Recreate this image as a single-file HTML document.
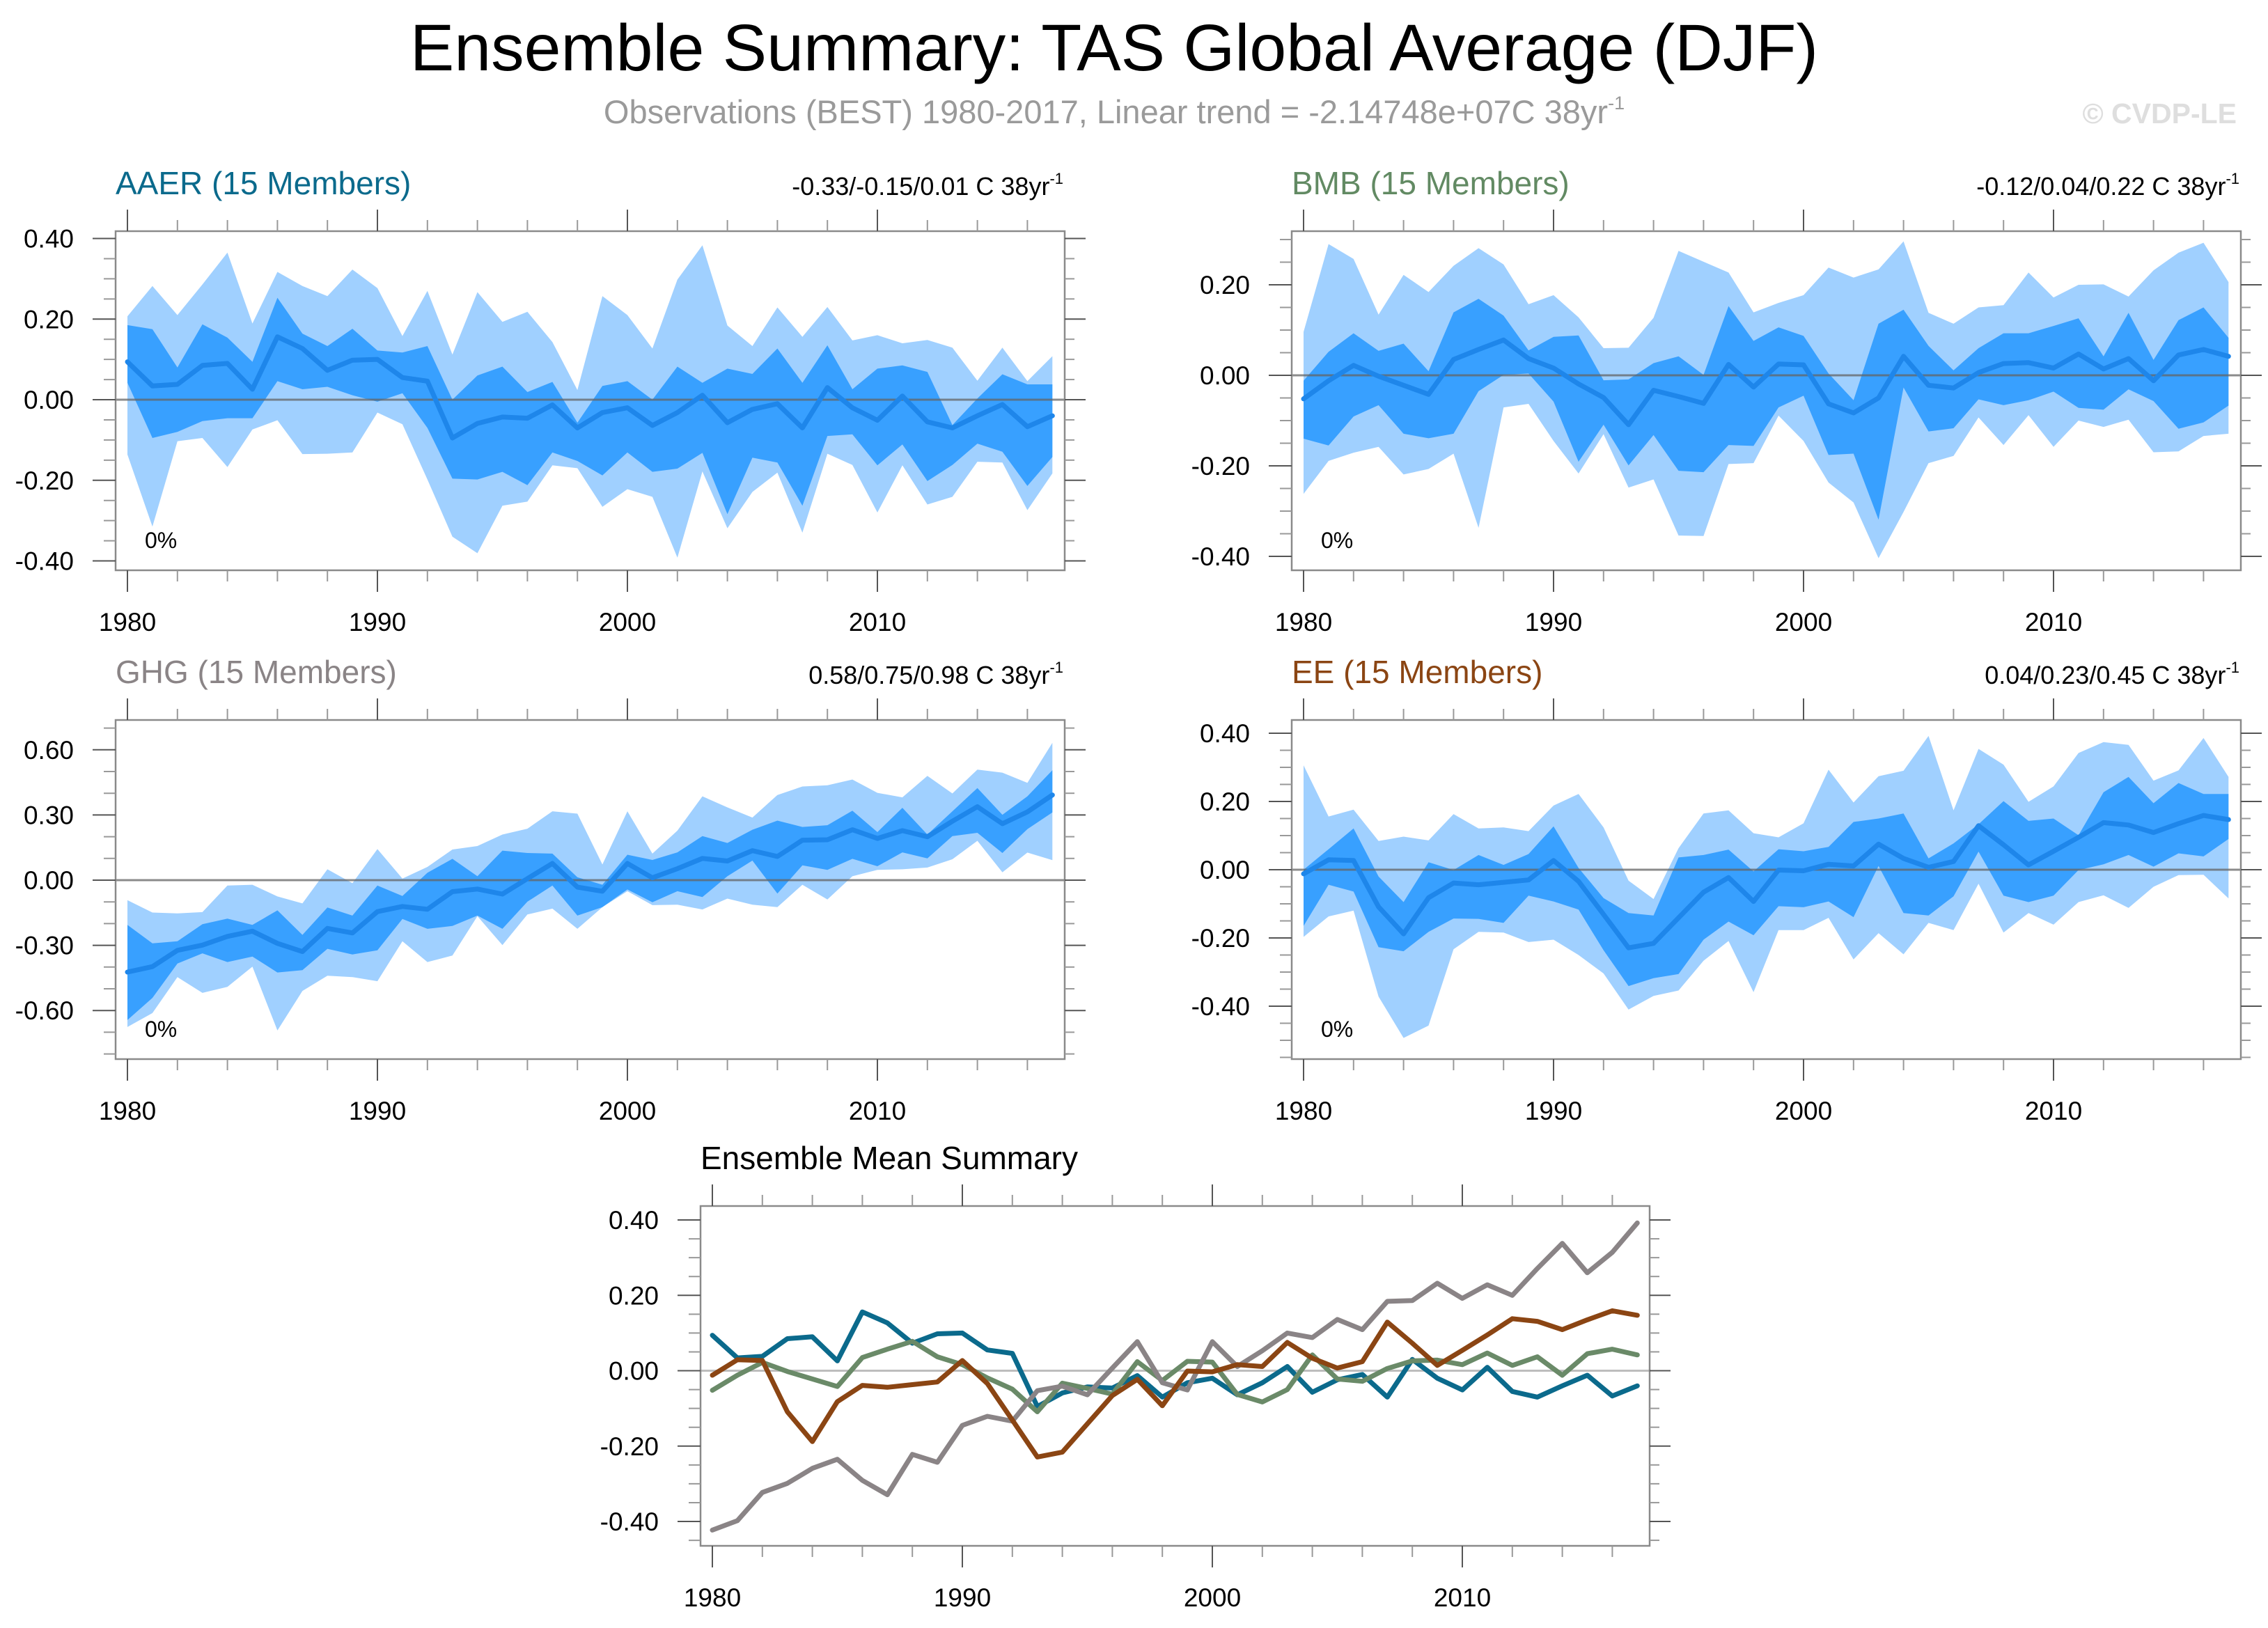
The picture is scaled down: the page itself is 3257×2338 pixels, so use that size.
<!DOCTYPE html>
<html><head><meta charset="utf-8"><style>
html,body{margin:0;padding:0;background:#fff;}
svg{display:block;font-family:"Liberation Sans",sans-serif;}
</style></head><body>
<svg id="root" width="3257" height="2338" viewBox="0 0 3257 2338" xmlns="http://www.w3.org/2000/svg">
<rect width="3257" height="2338" fill="#fff"/>
<text x="1600" y="101" font-size="95" text-anchor="middle" fill="#000">Ensemble Summary: TAS Global Average (DJF)</text>
<text x="1600" y="177" font-size="47" text-anchor="middle" fill="#9a9a9a">Observations (BEST) 1980-2017, Linear trend = -2.14748e+07C 38yr<tspan dy="-20" font-size="27">-1</tspan></text>
<text x="3212" y="177" font-size="41" font-weight="bold" text-anchor="end" fill="#dedede">© CVDP-LE</text>
<g id="charts"></g>
</svg>
<script>
const years = [1980,1981,1982,1983,1984,1985,1986,1987,1988,1989,1990,1991,1992,1993,1994,1995,1996,1997,1998,1999,2000,2001,2002,2003,2004,2005,2006,2007,2008,2009,2010,2011,2012,2013,2014,2015,2016,2017];
const xTickLabels = [1980,1990,2000,2010];

const aaerMean = [0.094,0.034,0.038,0.085,0.09,0.026,0.156,0.127,0.073,0.098,0.1,0.055,0.046,-0.095,-0.059,-0.043,-0.046,-0.013,-0.07,-0.032,-0.02,-0.064,-0.032,0.011,-0.057,-0.024,-0.01,-0.07,0.03,-0.02,-0.051,0.009,-0.055,-0.07,-0.04,-0.012,-0.067,-0.04];
const aaerInHi = [0.185,0.175,0.08,0.187,0.154,0.094,0.253,0.164,0.133,0.176,0.122,0.117,0.133,0,0.06,0.082,0.019,0.044,-0.057,0.034,0.046,0,0.082,0.042,0.077,0.064,0.127,0.042,0.135,0.026,0.077,0.085,0.069,-0.063,0.003,0.063,0.038,0.038];
const aaerInLo = [0.042,-0.095,-0.08,-0.053,-0.046,-0.046,0.046,0.026,0.032,0.011,-0.005,0.016,-0.07,-0.196,-0.198,-0.179,-0.212,-0.131,-0.152,-0.188,-0.131,-0.179,-0.171,-0.132,-0.284,-0.144,-0.156,-0.263,-0.09,-0.086,-0.163,-0.111,-0.202,-0.162,-0.109,-0.129,-0.214,-0.142];
const aaerOutHi = [0.207,0.282,0.21,0.286,0.365,0.189,0.317,0.282,0.257,0.323,0.277,0.158,0.27,0.112,0.267,0.193,0.218,0.143,0.024,0.257,0.21,0.127,0.298,0.383,0.184,0.133,0.229,0.156,0.23,0.147,0.16,0.14,0.148,0.129,0.047,0.129,0.046,0.108];
const aaerOutLo = [-0.136,-0.315,-0.103,-0.095,-0.167,-0.074,-0.051,-0.135,-0.134,-0.131,-0.032,-0.061,-0.198,-0.34,-0.381,-0.263,-0.253,-0.163,-0.17,-0.266,-0.222,-0.241,-0.392,-0.178,-0.319,-0.229,-0.181,-0.33,-0.134,-0.162,-0.28,-0.163,-0.26,-0.241,-0.154,-0.156,-0.274,-0.183];

const bmbMean = [-0.052,-0.012,0.022,-0.002,-0.022,-0.042,0.035,0.057,0.078,0.037,0.016,-0.019,-0.049,-0.109,-0.033,-0.047,-0.062,0.024,-0.026,0.025,0.023,-0.063,-0.083,-0.05,0.042,-0.022,-0.028,0.006,0.026,0.028,0.016,0.047,0.014,0.037,-0.012,0.045,0.057,0.042];
const bmbInHi = [-0.012,0.052,0.093,0.054,0.07,0.009,0.139,0.169,0.132,0.055,0.085,0.088,-0.011,-0.009,0.027,0.042,0.001,0.153,0.076,0.106,0.087,0.004,-0.055,0.114,0.145,0.065,0.011,0.06,0.093,0.093,0.109,0.126,0.042,0.138,0.034,0.122,0.15,0.083];
const bmbInLo = [-0.14,-0.155,-0.091,-0.066,-0.129,-0.139,-0.129,-0.035,0.001,0.004,-0.058,-0.191,-0.109,-0.199,-0.132,-0.211,-0.214,-0.154,-0.156,-0.071,-0.045,-0.176,-0.173,-0.319,-0.027,-0.124,-0.117,-0.053,-0.066,-0.055,-0.036,-0.072,-0.076,-0.031,-0.057,-0.118,-0.104,-0.067];
const bmbOutHi = [0.096,0.29,0.257,0.134,0.222,0.184,0.242,0.281,0.245,0.157,0.177,0.128,0.06,0.061,0.127,0.275,0.251,0.227,0.139,0.16,0.177,0.238,0.216,0.234,0.296,0.138,0.114,0.15,0.155,0.227,0.172,0.2,0.201,0.174,0.232,0.271,0.293,0.206];
const bmbOutLo = [-0.262,-0.189,-0.171,-0.158,-0.219,-0.207,-0.173,-0.337,-0.071,-0.063,-0.145,-0.217,-0.13,-0.248,-0.23,-0.354,-0.355,-0.196,-0.194,-0.089,-0.145,-0.237,-0.281,-0.404,-0.302,-0.194,-0.178,-0.093,-0.154,-0.088,-0.158,-0.1,-0.114,-0.098,-0.17,-0.168,-0.134,-0.129];

const ghgMean = [-0.423,-0.398,-0.323,-0.299,-0.259,-0.235,-0.291,-0.329,-0.222,-0.243,-0.145,-0.121,-0.134,-0.053,-0.041,-0.064,0.007,0.077,-0.032,-0.051,0.077,0.011,0.053,0.1,0.088,0.136,0.109,0.184,0.186,0.232,0.192,0.228,0.2,0.271,0.338,0.26,0.314,0.392];
const ghgInHi = [-0.206,-0.291,-0.281,-0.203,-0.177,-0.206,-0.139,-0.252,-0.126,-0.163,-0.025,-0.073,0.034,0.098,0.018,0.136,0.125,0.122,0.013,-0.021,0.117,0.093,0.128,0.203,0.171,0.232,0.274,0.245,0.253,0.32,0.221,0.333,0.21,0.317,0.424,0.301,0.386,0.506];
const ghgInLo = [-0.644,-0.542,-0.384,-0.337,-0.377,-0.352,-0.425,-0.414,-0.316,-0.342,-0.323,-0.179,-0.224,-0.211,-0.163,-0.224,-0.099,-0.025,-0.163,-0.124,-0.043,-0.102,-0.051,-0.078,0.018,0.09,-0.062,0.068,0.047,0.098,0.064,0.128,0.1,0.203,0.218,0.125,0.235,0.312];
const ghgOutHi = [-0.092,-0.149,-0.153,-0.147,-0.025,-0.021,-0.075,-0.107,0.05,-0.014,0.143,0.007,0.061,0.141,0.157,0.21,0.237,0.317,0.306,0.072,0.317,0.122,0.228,0.386,0.335,0.288,0.392,0.431,0.437,0.463,0.402,0.381,0.48,0.399,0.509,0.495,0.448,0.632];
const ghgOutLo = [-0.676,-0.612,-0.446,-0.519,-0.491,-0.398,-0.692,-0.51,-0.44,-0.446,-0.465,-0.281,-0.377,-0.347,-0.166,-0.299,-0.158,-0.131,-0.224,-0.124,-0.051,-0.115,-0.113,-0.135,-0.085,-0.113,-0.124,-0.021,-0.089,0.018,0.047,0.05,0.058,0.096,0.181,0.036,0.127,0.092];

const eeMean = [-0.012,0.029,0.027,-0.109,-0.188,-0.082,-0.039,-0.044,-0.037,-0.03,0.027,-0.034,-0.131,-0.229,-0.216,-0.141,-0.066,-0.023,-0.093,-0.001,-0.003,0.016,0.011,0.075,0.033,0.007,0.024,0.129,0.073,0.014,0.054,0.095,0.138,0.131,0.109,0.135,0.159,0.147];
const eeInHi = [0,0.06,0.121,-0.02,-0.095,0.022,-0.001,0.043,0.014,0.046,0.127,0.005,-0.083,-0.127,-0.134,0.036,0.043,0.059,-0.005,0.06,0.054,0.067,0.14,0.15,0.165,0.033,0.077,0.133,0.201,0.143,0.15,0.101,0.227,0.272,0.195,0.254,0.222,0.222];
const eeInLo = [-0.165,-0.044,-0.064,-0.227,-0.239,-0.182,-0.143,-0.144,-0.156,-0.076,-0.093,-0.117,-0.236,-0.341,-0.318,-0.306,-0.205,-0.152,-0.192,-0.107,-0.11,-0.093,-0.139,0.011,-0.127,-0.134,-0.078,0.053,-0.076,-0.095,-0.076,-0.001,0.016,0.043,0.009,0.048,0.039,0.09];
const eeOutHi = [0.306,0.156,0.176,0.084,0.097,0.086,0.163,0.121,0.124,0.113,0.188,0.222,0.124,-0.032,-0.086,0.063,0.165,0.174,0.107,0.095,0.136,0.293,0.197,0.274,0.29,0.392,0.174,0.354,0.308,0.199,0.244,0.342,0.374,0.366,0.261,0.291,0.386,0.272];
const eeOutLo = [-0.197,-0.137,-0.12,-0.372,-0.493,-0.457,-0.233,-0.182,-0.184,-0.212,-0.205,-0.25,-0.304,-0.41,-0.37,-0.354,-0.267,-0.209,-0.359,-0.177,-0.177,-0.141,-0.263,-0.186,-0.248,-0.156,-0.177,-0.041,-0.184,-0.127,-0.161,-0.095,-0.075,-0.112,-0.05,-0.016,-0.015,-0.084];

const aaerYTicks = [-0.4,-0.2,0,0.2,0.4];
const bmbYTicks = [-0.4,-0.2,0,0.2];
const ghgYTicks = [-0.6,-0.3,0,0.3,0.6];
const eeYTicks = [-0.4,-0.2,0,0.2,0.4];
const meanYTicks = [-0.4,-0.2,0,0.2,0.4];
const trendTexts = ["-0.33/-0.15/0.01 C 38yr","-0.12/0.04/0.22 C 38yr","0.58/0.75/0.98 C 38yr","0.04/0.23/0.45 C 38yr"];

const NS = "http://www.w3.org/2000/svg";
const root = document.getElementById('charts');
function mk(tag, attrs, parent){
  const e = document.createElementNS(NS, tag);
  for (const k in attrs) e.setAttribute(k, attrs[k]);
  (parent||root).appendChild(e);
  return e;
}
const BW = 1363, BH = 487, XOFF = 17, XSTEP = 35.9;

function makeAxes(g, bx, by, bh, zeroPx, scale, ticks, minorStep, zeroColor){
  const xS = y => bx + XOFF + (y - 1980) * XSTEP;
  const yS = v => zeroPx - v * scale;
  const z = mk('line', {x1:bx, x2:bx+BW, y1:yS(0), y2:yS(0), stroke:zeroColor, 'stroke-width':3}, g);
  
  
  const fr = mk('rect', {x:bx, y:by, width:BW, height:bh, fill:'none', stroke:'#8a8a8a', 'stroke-width':2.5}, g);
  
  
  for (let yr = 1980; yr <= 2017; yr += 2) {
    const major = (yr % 10 === 0);
    const L = major ? 31 : 16;
    const x = xS(yr);
    mk('line', {x1:x, x2:x, y1:by, y2:by-L, stroke:major?'#555':'#999', 'stroke-width':2}, g);
    mk('line', {x1:x, x2:x, y1:by+bh, y2:by+bh+L, stroke:major?'#555':'#999', 'stroke-width':2}, g);
  }
  xTickLabels.forEach(yr => {
    const t = mk('text', {x:xS(yr), y:by+bh+87, 'font-size':37, 'text-anchor':'middle', fill:'#000'}, g);
    
    
    t.textContent = yr;
  });
  const vTop = (zeroPx - by) / scale, vBot = (zeroPx - by - bh) / scale;
  const n0 = Math.ceil(vBot / minorStep - 1e-6), n1 = Math.floor(vTop / minorStep + 1e-6);
  for (let n = n0; n <= n1; n++) {
    const v = n * minorStep;
    const major = ticks.some(t => Math.abs(t - v) < 1e-6);
    const y = yS(v);
    mk('line', {x1:bx, x2:bx-(major?33:17), y1:y, y2:y, stroke:major?'#555':'#999', 'stroke-width':2}, g);
    mk('line', {x1:bx+BW, x2:bx+BW+(major?30:14), y1:y, y2:y, stroke:major?'#555':'#999', 'stroke-width':2}, g);
  }
  ticks.forEach(v => {
    const t = mk('text', {x:bx-60, y:yS(v)+13, 'font-size':37, 'text-anchor':'end', fill:'#000'}, g);
    
    
    t.textContent = v.toFixed(2);
  });
  return {xS, yS};
}

function band(g, xS, yS, hi, lo, color, name){
  const pts = [];
  years.forEach((yr,i) => pts.push(xS(yr).toFixed(1)+','+yS(hi[i]).toFixed(1)));
  for (let i = years.length-1; i >= 0; i--) pts.push(xS(years[i]).toFixed(1)+','+yS(lo[i]).toFixed(1));
  const p = mk('polygon', {points:pts.join(' '), fill:color}, g);
  
  
}
function line(g, xS, yS, vals, color, w, name){
  const pts = years.map((yr,i) => xS(yr).toFixed(1)+','+yS(vals[i]).toFixed(1)).join(' ');
  const p = mk('polyline', {points:pts, fill:'none', stroke:color, 'stroke-width':w, 'stroke-linejoin':'round', 'stroke-linecap':'round'}, g);
  
  
}

function panel(key, label, color, trend, bx, by, zeroPx, scale, ticks, minorStep, mean, inHi, inLo, outHi, outLo){
  const g = mk('g', {});
  
  
  const t = mk('text', {x:bx, y:by-53, 'font-size':46, fill:color}, g);
  
  
  t.textContent = label;
  const tr = mk('text', {x:bx+BW-2, y:by-52, 'font-size':36, 'text-anchor':'end', fill:'#000'}, g);
  
  
  tr.textContent = trend;
  const sup = mk('tspan', {dy:-16, 'font-size':22}, tr);
  sup.textContent = '-1';
  const clipId = 'clip-' + key;
  const cp = mk('clipPath', {id:clipId}, g);
  mk('rect', {x:bx, y:by, width:BW, height:BH}, cp);
  const dg = mk('g', {'clip-path':'url(#'+clipId+')'}, g);
  const xS = y => bx + XOFF + (y - 1980) * XSTEP;
  const yS = v => zeroPx - v * scale;
  band(dg, xS, yS, outHi, outLo, '#a0d0ff', key + '-outer-spread-band');
  band(dg, xS, yS, inHi, inLo, '#38a0ff', key + '-inner-spread-band');
  makeAxes(g, bx, by, BH, zeroPx, scale, ticks, minorStep, 'rgba(100,100,100,0.75)');
  line(g, xS, yS, mean, '#1e86ea', 7, key + '-ensemble-mean-line');
  const pc = mk('text', {x:bx+42, y:by+BH-32, 'font-size':32, fill:'#000'}, g);
  
  
  pc.textContent = '0%';
}

panel('aaer','AAER (15 Members)','#0b6a8c',trendTexts[0],166,332,574,578.75,aaerYTicks,0.05,aaerMean,aaerInHi,aaerInLo,aaerOutHi,aaerOutLo);
panel('bmb','BMB (15 Members)','#628a63',trendTexts[1],1855,332,539,650,bmbYTicks,0.05,bmbMean,bmbInHi,bmbInLo,bmbOutHi,bmbOutLo);
panel('ghg','GHG (15 Members)','#8a8486',trendTexts[2],166,1034,1264,312,ghgYTicks,0.1,ghgMean,ghgInHi,ghgInLo,ghgOutHi,ghgOutLo);
panel('ee','EE (15 Members)','#8b4513',trendTexts[3],1855,1034,1249,490,eeYTicks,0.05,eeMean,eeInHi,eeInLo,eeOutHi,eeOutLo);

(function(){
  const bx = 1006, by = 1732;
  const g = mk('g', {});
  
  
  const t = mk('text', {x:bx, y:1679, 'font-size':46, fill:'#000'}, g);
  
  
  t.textContent = 'Ensemble Mean Summary';
  const ax = makeAxes(g, bx, by, 488, 1968.5, 541.25, meanYTicks, 0.05, '#bdbdbd');
  line(g, ax.xS, ax.yS, aaerMean, '#0b6a8c', 7, 'aaer-mean-line');
  line(g, ax.xS, ax.yS, bmbMean, '#6a8a68', 7, 'bmb-mean-line');
  line(g, ax.xS, ax.yS, ghgMean, '#8a8486', 7, 'ghg-mean-line');
  line(g, ax.xS, ax.yS, eeMean, '#8b4513', 7, 'ee-mean-line');
})();
</script>
</body></html>
